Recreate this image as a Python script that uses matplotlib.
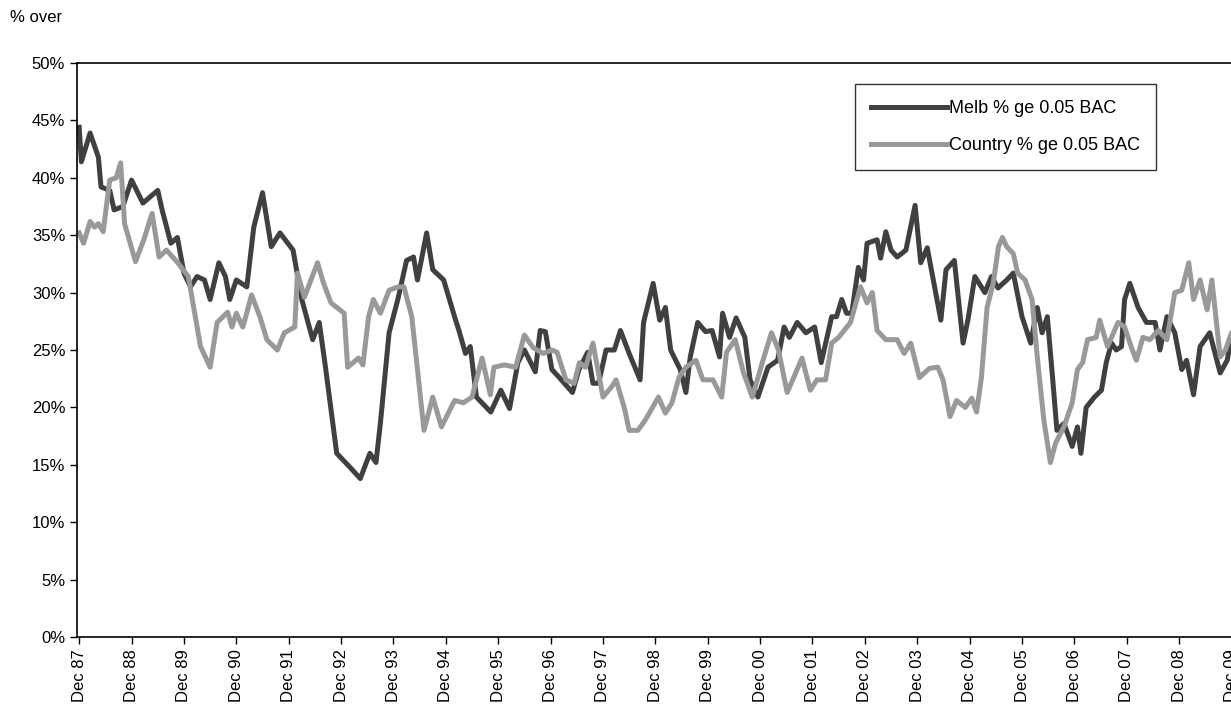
import matplotlib
matplotlib.use("Agg")
import matplotlib.pyplot as plt
from matplotlib.ticker import FixedLocator

plt.rcParams['font.family'] = ['Liberation Sans', 'DejaVu Sans']

# month index counted from Dec 1987
melb_m = [0,0.5,2.5,4.4,5,7,8,10,12,14.6,18,19,21,22.5,24,25.5,27,28.7,30,32,33.5,34.5,36,38.4,40,42,44,46,49,51,53.5,55,56.5,59,62,64.4,66.6,68,69,71,73,75,76.6,77.5,79.6,81,83.5,86,87,88.5,89.6,91,94.3,96.6,98.6,100.5,102,104.5,105.6,106.8,108.3,110,113,114.5,116.5,117.7,119,120.7,122.6,124,126,128.5,129.3,131.5,133,134.3,135.5,137.7,139,140,141.7,143.5,145,146.7,147.4,149,150.5,152.5,153.7,155.5,157.8,160,161.5,162.7,164.5,166.5,168.5,170,172.4,173.5,174.7,175.8,177,178.5,179.7,180.5,182.8,183.6,184.8,186,187.4,189.4,191.5,192.8,194.3,197.4,198.6,200.5,202.5,203.6,205.2,207.5,209,210.5,212.5,214,216,218,219.5,220.6,221.8,223,224,225.6,227.5,228.7,229.5,230.7,232.6,234.2,235.3,236.5,237.6,238.8,239.5,240.7,242.6,244.5,246.5,247.6,249.2,251,252.6,253.7,255.3,256.8,259,261.4,263,264,265.2,266.7]
melb_v = [44.4,41.4,43.9,41.8,39.2,38.9,37.2,37.5,39.8,37.8,38.9,37.2,34.3,34.8,31.7,30.5,31.4,31.1,29.4,32.6,31.4,29.4,31.1,30.5,35.7,38.7,34.0,35.2,33.7,29.4,25.9,27.4,23.3,16.0,14.8,13.8,16.0,15.2,18.6,26.5,29.4,32.8,33.1,31.1,35.2,32.0,31.1,27.9,26.7,24.7,25.3,20.9,19.6,21.5,19.9,23.9,25.0,23.1,26.7,26.6,23.3,22.6,21.3,23.3,24.8,22.1,22.1,25.0,25.0,26.7,24.7,22.4,27.4,30.8,27.6,28.7,25.0,23.3,21.3,24.4,27.4,26.6,26.7,24.4,28.2,26.1,27.8,26.1,22.4,20.9,23.5,24.1,27.0,26.1,27.4,26.5,27.0,23.9,27.9,27.9,29.4,28.2,28.2,32.2,31.1,34.3,34.6,33.0,35.3,33.7,33.1,33.7,37.6,32.6,33.9,27.6,32.0,32.8,25.6,27.6,31.4,30.0,31.4,30.4,31.1,31.7,27.9,25.6,28.7,26.5,27.9,22.6,18.0,18.6,16.6,18.3,16.0,20.0,20.9,21.5,23.9,25.6,25.0,25.3,29.4,30.8,28.7,27.4,27.4,25.0,27.9,26.5,23.3,24.1,21.1,25.3,26.5,23.0,24.1,26.1,27.4,26.6]

country_m = [0,1,2.5,3.5,4.4,5.5,7,8.5,9.5,10.4,12.9,14.8,16.7,18.3,20,22.6,25,27.8,30,31.6,34,35,36,37.5,39.5,41.4,43,45.4,47,49.4,50,51.6,54.6,56,57.7,60.7,61.5,64,65,66.3,67.4,69,71,73,74.4,76.2,78,79,81,83,86,88,90,92.3,94.2,95,97.4,100,102,104,106.3,108.3,109.5,111.5,113.4,114.6,116,117.7,120,122,123,125,126,128,129.7,132.7,134.3,135.8,137.4,139,141.3,142.9,145.2,147.2,148.3,150.3,152.2,154.2,156.5,158.6,160.2,162.2,163.7,165.6,167.5,169,171,172.4,174,176.7,179,180.5,181.7,182.8,184.8,187.4,189,190.5,192.5,194.8,196.7,197.9,199.5,201,203,204.5,205.6,206.7,208,209.4,210.6,211.5,212.5,214,215,216.7,218.3,219.5,221,222.5,223.7,225.6,227.5,228.7,229.9,231,233,233.8,235.6,238,239.5,241,242.2,243.7,245.3,247.2,249.2,251,252.6,254.2,255.3,256.8,258.4,259.5,261.4,262.6,264,265.6,266.7]
country_v = [35.2,34.3,36.2,35.7,36.0,35.3,39.8,40.0,41.3,36.0,32.7,34.6,36.9,33.1,33.7,32.6,31.4,25.3,23.5,27.4,28.3,27.0,28.2,27.0,29.8,27.9,25.9,25.0,26.5,27.0,31.7,29.6,32.6,30.8,29.1,28.2,23.5,24.3,23.7,27.9,29.4,28.2,30.2,30.5,30.5,27.9,21.5,18.0,20.9,18.3,20.6,20.4,20.9,24.3,21.1,23.5,23.7,23.5,26.3,25.2,24.7,25.0,24.8,22.4,22.1,23.9,23.5,25.6,20.9,21.8,22.4,19.8,18.0,18.0,18.9,20.9,19.5,20.4,22.6,23.5,24.1,22.4,22.4,20.9,24.8,25.9,23.0,20.9,23.9,26.5,25.0,21.3,22.6,24.3,21.5,22.4,22.4,25.6,26.1,27.4,30.5,29.1,30.0,26.7,25.9,25.9,24.7,25.6,22.6,23.4,23.5,22.4,19.2,20.6,20.0,20.8,19.6,22.6,28.7,30.8,34.0,34.8,34.0,33.4,31.7,31.1,29.4,24.4,18.9,15.2,16.9,18.3,20.4,23.3,23.9,25.9,26.1,27.6,25.3,27.4,27.0,25.3,24.1,26.1,25.9,26.7,25.9,30.0,30.2,32.6,29.4,31.1,28.5,31.1,24.4,25.0,26.5,20.9,20.4]

tick_labels = ["Dec %02d" % (y % 100) for y in range(1987, 2010)]
y_ticks = [0, 5, 10, 15, 20, 25, 30, 35, 40, 45, 50]

fig = plt.figure(figsize=(12.31, 7.23), dpi=100)
axw = 1 - 77/1231 + 0.01
ax = fig.add_axes([77/1231, 1-637/723, axw, (637-63)/723])
ax.plot(melb_m, melb_v, color='#404040', lw=3.6, label='Melb % ge 0.05 BAC', solid_joinstyle='round')
ax.plot(country_m, country_v, color='#999999', lw=3.6, label='Country % ge 0.05 BAC', solid_joinstyle='round')

ax.set_xlim(-0.5, 266.7)
ax.set_ylim(0, 50)
ax.xaxis.set_major_locator(FixedLocator([12*i for i in range(len(tick_labels))]))
ax.set_xticklabels(tick_labels, rotation=90, fontsize=12)
ax.set_yticks(y_ticks)
ax.set_yticklabels(["%d%%" % v for v in y_ticks], fontsize=12)
ax.tick_params(direction='out', length=5, width=1, colors='black')
ax.spines['right'].set_visible(False)
for s in ['left', 'bottom', 'top']:
    ax.spines[s].set_linewidth(1.2)

leg = ax.legend(loc='upper right',
                bbox_to_anchor=((1165-77)/1231/axw, (637-75)/574),
                fontsize=13, frameon=True, fancybox=False, edgecolor='black',
                handlelength=4.2, handletextpad=0.1, borderpad=0.9, labelspacing=1.1)
leg.get_frame().set_linewidth(1)

fig.text(10/1231, 1-18/723, "% over", fontsize=12, va='center')
fig.savefig("out.png", dpi=100)
